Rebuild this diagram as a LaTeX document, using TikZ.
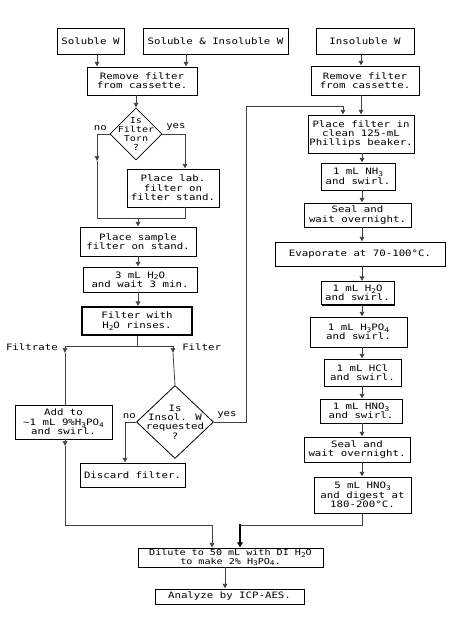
\documentclass[tikz,border=0pt]{standalone}
\usepackage{fontspec}
\newfontfamily\pix[FakeStretch=1.22]{DejaVu Sans Mono}
\usetikzlibrary{shapes.geometric,shadows,arrows.meta}
\newcommand\sbs[1]{\raisebox{-0.4ex}{\fontsize{4.8}{5}\selectfont #1}}
\begin{document}
\begin{tikzpicture}[x=0.75pt,y=-0.75pt,
  every node/.style={font={\pix\fontsize{6.6}{7}\selectfont}},
  box/.style={draw=black, fill=white, line width=0.6pt, align=center, inner sep=0pt,
    drop shadow={shadow xshift=1pt, shadow yshift=-1pt, fill=black, opacity=1}},
  sz/.style 2 args={minimum width=#1*0.75pt, minimum height=#2*0.75pt},
  diam/.style={draw=black, diamond, fill=white, inner sep=0pt, line width=0.6pt},
  line/.style={draw=black!75, line width=0.6pt},
  arr/.style={line, -{Latex[length=3.5pt,width=4pt]}},
  thickarr/.style={draw=black, line width=1.4pt, -{Latex[length=4pt,width=5pt]}},
  lbl/.style={inner sep=0pt, align=center},
]
\useasboundingbox[fill=white] (0,0) rectangle (450,622);

% top row
\node[box, sz={67}{26}] (sw) at (90.5,41) {Soluble W};
\node[box, sz={145}{26}] (sinw) at (215.5,41) {Soluble \& Insoluble W};
\node[box, sz={98}{26}] (iw) at (365,41) {Insoluble W};

% left column
\node[box, sz={110}{28}] (rf1) at (142,81) {Remove filter\\from cassette.};
\node[diam, sz={52}{52}] (d1) at (136,134) {};
\node[lbl, font={\pix\fontsize{6.2}{6.8}\selectfont}] (d1t) at (136,134) {Is\\Filter\\Torn\\?};
\node[box, sz={92}{38}] (lab) at (173,188) {Place lab.\\filter on\\filter stand.};
\node[box, sz={116}{29}] (ps) at (138,241.5) {Place sample\\filter on stand.};
\node[box, sz={114}{25}] (w3) at (140,279.5) {3 mL H\sbs{2}O\\and wait 3 min.};
\node[box, sz={110}{28}, line width=1.3pt] (fw) at (137,321) {Filter with\\H\sbs{2}O rinses.};
\node[box, sz={97}{34}] (add) at (63.5,422) {Add to\\\textasciitilde1 mL 9\%H\sbs{3}PO\sbs{4}\\and swirl.};
\node[diam, sz={77}{73}] (d2) at (175,422) {};
\node[lbl] (d2t) at (175,422) {Is\\Insol. W\\requested\\?};
\node[box, sz={105}{24}] (disc) at (132.5,475) {Discard filter.};

% right column
\node[box, sz={108}{29}] (rf2) at (365,80.5) {Remove filter\\from cassette.};
\node[box, sz={106}{38}] (pf) at (361,134) {Place filter in\\clean 125-mL\\Phillips beaker.};
\node[box, sz={74}{27}] (nh3) at (358,176.5) {1 mL NH\sbs{3}\\and swirl.};
\node[box, sz={107}{24}] (seal1) at (357.5,215) {Seal and\\wait overnight.};
\node[box, sz={170}{24}] (evap) at (360,254) {Evaporate at 70-100°C.};
\node[box, sz={73}{23}] (h2o) at (357.5,293) {1 mL H\sbs{2}O\\and swirl.};
\node[box, sz={97}{30}] (h3po4) at (358.5,332) {1 mL H\sbs{3}PO\sbs{4}\\and swirl.};
\node[box, sz={77}{27}] (hcl) at (362.5,372.5) {1 mL HCl\\and swirl.};
\node[box, sz={82}{24}] (hno3) at (361,411) {1 mL HNO\sbs{3}\\and swirl.};
\node[box, sz={106}{25}] (seal2) at (357,449.5) {Seal and\\wait overnight.};
\node[box, sz={97}{36}] (dig) at (362.5,495) {5 mL HNO\sbs{3}\\and digest at\\180-200°C.};

% bottom
\node[box, sz={185}{19}, font={\pix\fontsize{6.2}{6.6}\selectfont}] (dil) at (230.5,557.5) {Dilute to 50 mL with DI H\sbs{2}O\\to make 2\% H\sbs{3}PO\sbs{4}.};
\node[box, sz={149}{15}] (an) at (229.5,596.5) {Analyze by ICP-AES.};

% labels
\node[lbl, anchor=south east] (l1no) at (107,131) {no};
\node[lbl, anchor=south west] (l1yes) at (166,131) {yes};
\node[lbl, anchor=east] (lfiltrate) at (58,347) {Filtrate};
\node[lbl, anchor=west] (lfilter) at (182,347) {Filter};
\node[lbl, anchor=south east] (l2no) at (136,419) {no};
\node[lbl, anchor=south west] (l2yes) at (217,419) {yes};

% connectors: top
\draw[arr] (97,0 |- sw.south) -- (97,0 |- rf1.north);
\draw[arr] (186,0 |- sinw.south) -- (186,0 |- rf1.north);
\draw[arr] (d1.north |- rf1.south) -- (d1.north);
% decision 1
\draw[arr] (d1.west) -| (97,161);
\draw[line] (97,161) -- (97,218) -- (185,218) -- (185,0 |- lab.south);
\draw[arr] (d1.east) -| (185,0 |- lab.north);
\draw[arr] (138,218) -- (138,0 |- ps.north);
\draw[arr] (138,0 |- ps.south) -- (138,0 |- w3.north);
\draw[arr] (138,0 |- w3.south) -- (138,0 |- fw.north);
% split
\draw[line] (137,0 |- fw.south) -- (137,346);
\draw[arr] (137,346) -| (65,353);
\draw[line] (65,353) -- (65,0 |- add.north);
\draw[arr] (137,346) -| (173,353);
\draw[line] (173,353) -- (d2.north);
% decision 2
\draw[arr] (d2.west) -| (125,0 |- disc.north);
\draw[line] (d2.east) -- (246,0 |- d2.east) -- (246,106) -- (343,106);
\draw[arr] (343,106) -- (343,0 |- pf.north);
% right column
\draw[arr] (361,0 |- iw.south) -- (361,0 |- rf2.north);
\draw[arr] (361,0 |- rf2.south) -- (361,0 |- pf.north);
\draw[arr] (362,0 |- pf.south) -- (362,0 |- nh3.north);
\draw[arr] (362,0 |- nh3.south) -- (362,0 |- seal1.north);
\draw[arr] (362,0 |- seal1.south) -- (362,0 |- evap.north);
\draw[arr] (362,0 |- evap.south) -- (362,0 |- h2o.north);
\draw[arr] (362,0 |- h2o.south) -- (362,0 |- h3po4.north);
\draw[arr] (362,0 |- h3po4.south) -- (362,0 |- hcl.north);
\draw[arr] (362,0 |- hcl.south) -- (362,0 |- hno3.north);
\draw[arr] (362,0 |- hno3.south) -- (362,0 |- seal2.north);
\draw[arr] (362,0 |- seal2.south) -- (362,0 |- dig.north);
% bottom merge
\draw[arr] (65,0 |- add.south) -- (65,446);
\draw[line] (65,446) -- (65,525) -- (212,525);
\draw[arr] (212,525) -- (212,0 |- dil.north);
\draw[line] (362,0 |- dig.south) -- (362,525) -- (240,525);
\draw[thickarr] (240,524) -- (240,0 |- dil.north);
\draw[arr] (225,0 |- dil.south) -- (225,0 |- an.north);
\end{tikzpicture}
\end{document}
